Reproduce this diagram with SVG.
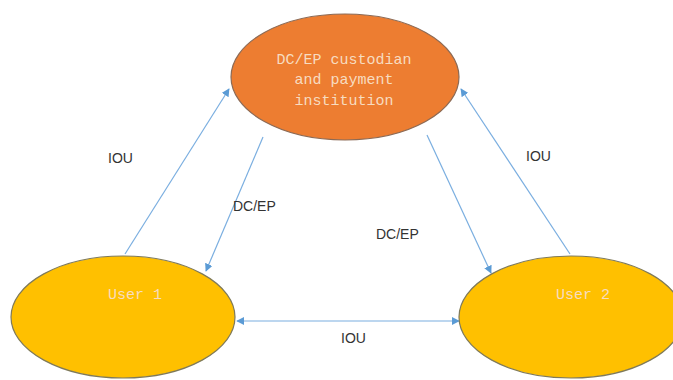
<svg xmlns="http://www.w3.org/2000/svg" width="673" height="380" viewBox="0 0 673 380">
<style>
.conn{stroke:#7aaee0;stroke-width:1.2;fill:none}
.lbl{font-family:"Liberation Sans",Arial,sans-serif;font-size:14px;fill:#333}
.nt{font-family:"Liberation Mono","Courier New",monospace;font-size:15px;fill:#f7dcc0;text-anchor:middle}
</style>
<defs>
<marker id="ah" viewBox="0 0 10 10" refX="9" refY="5" markerWidth="8" markerHeight="8" orient="auto-start-reverse" markerUnits="userSpaceOnUse">
<path d="M0,0 L10,5 L0,10 z" fill="#5b9bd5"/>
</marker>
</defs>
<rect width="673" height="380" fill="#fff"/>
<g id="connectors">
<line class="conn" x1="125" y1="254" x2="229" y2="89" marker-end="url(#ah)"/>
<line class="conn" x1="263" y1="137" x2="206" y2="271" marker-end="url(#ah)"/>
<line class="conn" x1="427" y1="135" x2="491" y2="273" marker-end="url(#ah)"/>
<line class="conn" x1="570" y1="254" x2="461" y2="89" marker-end="url(#ah)"/>
<line class="conn" x1="237" y1="321" x2="459" y2="321" marker-start="url(#ah)" marker-end="url(#ah)"/>
<text class="lbl" x="108" y="163">IOU</text>
<text class="lbl" x="233" y="211">DC/EP</text>
<text class="lbl" x="376" y="239">DC/EP</text>
<text class="lbl" x="526" y="161">IOU</text>
<text class="lbl" x="341" y="343">IOU</text>
</g>
<g id="custodian">
<ellipse cx="345" cy="77" rx="114" ry="63" fill="#ed7d31" stroke="#8c6a55" stroke-width="1.2"/>
<text class="nt" x="344" y="64">DC/EP custodian</text>
<text class="nt" x="344" y="84">and payment</text>
<text class="nt" x="344" y="105">institution</text>
</g>
<g id="user1">
<ellipse cx="123" cy="317" rx="112" ry="61" fill="#ffc000" stroke="#7f7a5a" stroke-width="1.2"/>
<text class="nt" x="135" y="299">User 1</text>
</g>
<g id="user2">
<ellipse cx="571" cy="317" rx="112" ry="61" fill="#ffc000" stroke="#7f7a5a" stroke-width="1.2"/>
<text class="nt" x="583" y="299">User 2</text>
</g>
</svg>
